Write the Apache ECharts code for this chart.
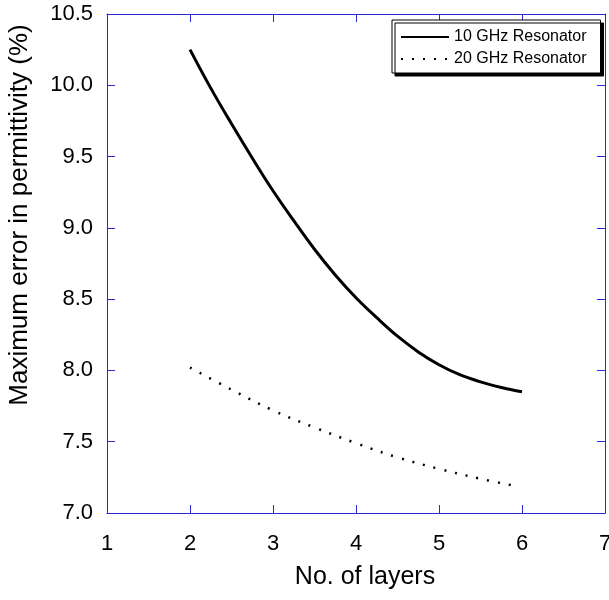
<!DOCTYPE html>
<html>
<head>
<meta charset="utf-8">
<script src="https://cdn.jsdelivr.net/npm/echarts@6/dist/echarts.min.js"></script>
<style>html,body{margin:0;padding:0;background:#fff;overflow:hidden}#c{width:609px;height:600px}</style>
</head>
<body>
<div id="c"></div>
<script>
const layers10 = [2, 2.25, 2.5, 2.75, 3, 3.25, 3.5, 3.75, 4, 4.25, 4.5, 4.75, 5, 5.25, 5.5, 5.75, 6];
const err10 = [10.25, 9.98, 9.73, 9.49, 9.26, 9.05, 8.85, 8.67, 8.51, 8.37, 8.24, 8.13, 8.04, 7.97, 7.92, 7.88, 7.85];
const layers20 = [2, 2.5, 3, 3.5, 4, 4.5, 5, 5.5, 5.92];
const err20 = [8.02, 7.865, 7.72, 7.60, 7.49, 7.39, 7.31, 7.24, 7.19];
const seriesNames = ['10 GHz Resonator', '20 GHz Resonator'];
const xTitle = 'No. of layers';
const yTitle = 'Maximum error in permittivity (%)';

const axisBlue = '#2828d8';
const font = 'Liberation Sans, Arial, sans-serif';
const chart = echarts.init(document.getElementById('c'));
const baseX = {
  type: 'value', min: 1, max: 7, interval: 1,
  axisLine: { show: true, lineStyle: { color: axisBlue, width: 1 } },
  axisTick: { show: true, inside: true, length: 8, lineStyle: { color: axisBlue } },
  splitLine: { show: false }
};
const baseY = {
  type: 'value', min: 7, max: 10.5, interval: 0.5,
  axisLine: { show: true, lineStyle: { color: axisBlue, width: 1 } },
  axisTick: { show: true, inside: true, length: 8, lineStyle: { color: axisBlue } },
  splitLine: { show: false }
};
chart.setOption({
  animation: false,
  backgroundColor: '#fff',
  grid: { left: 107, top: 14, width: 498, height: 499, containLabel: false, outerBoundsMode: 'none' },
  legend: {
    left: 392, top: 20,
    orient: 'vertical',
    itemWidth: 48, itemHeight: 12, itemGap: 6,
    padding: [9, 14, 6, 8],
    backgroundColor: '#fff',
    borderColor: '#000', borderWidth: 1,
    shadowColor: '#000', shadowBlur: 0, shadowOffsetX: 3, shadowOffsetY: 3,
    itemStyle: { opacity: 0 },
    textStyle: { fontFamily: font, fontSize: 16, color: '#000', padding: [0, 0, 0, 0] },
    data: seriesNames
  },
  graphic: [
    { type: 'text', x: 365, y: 577, style: { text: xTitle, fontFamily: font, fontSize: 25, fill: '#000', align: 'center', verticalAlign: 'middle' } },
    { type: 'text', x: 20, y: 215, rotation: Math.PI / 2, style: { text: yTitle, fontFamily: font, fontSize: 26, fill: '#000', align: 'center', verticalAlign: 'middle' } }
  ],
  xAxis: [
    Object.assign({}, baseX, {
      position: 'bottom',
      axisLabel: { fontFamily: font, fontSize: 22, color: '#000', margin: 20 }
    }),
    Object.assign({}, baseX, { position: 'top', axisLabel: { show: false } })
  ],
  yAxis: [
    Object.assign({}, baseY, {
      position: 'left',
      axisLabel: { fontFamily: font, fontSize: 22, color: '#000', margin: 14,
        formatter: v => v.toFixed(1) }
    }),
    Object.assign({}, baseY, { position: 'right', axisLabel: { show: false } })
  ],
  series: [
    {
      name: seriesNames[0], type: 'line', smooth: 0.4, symbol: 'none',
      data: layers10.map((x, i) => [x, err10[i]]),
      lineStyle: { color: '#000', width: 3, type: 'solid' },
      itemStyle: { color: '#000' }
    },
    {
      name: seriesNames[1], type: 'line', smooth: 0.4, symbol: 'none',
      data: layers20.map((x, i) => [x, err20[i]]),
      lineStyle: { color: '#000', width: 2.5, type: [2, 9] },
      itemStyle: { color: '#000' }
    }
  ]
});
</script>
</body>
</html>
